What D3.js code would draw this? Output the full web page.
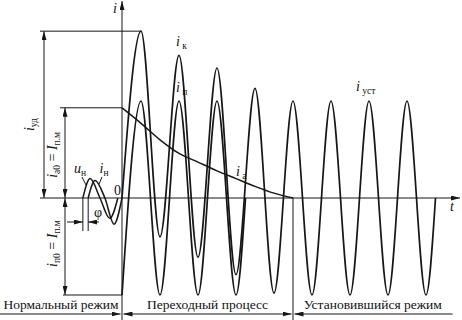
<!DOCTYPE html>
<html>
<head>
<meta charset="utf-8">
<script src="https://cdn.jsdelivr.net/npm/d3@7"></script>
<style>
  body { margin: 0; background: #fff; }
  text { font-family: "Liberation Serif", "DejaVu Serif", serif; fill: #111; }
</style>
</head>
<body>
<script>
(function () {

// time in periods of the supply frequency, current in units of I_п.м
// short-circuit current i_к: extremes at every half period
var tK = [0, 0.5, 1, 1.5, 2, 2.5, 3, 3.5, 4, 4.5, 5, 5.5, 6, 6.5, 7, 7.5, 8, 8.25];
var iK = [0, 1.72, -0.40, 1.47, -0.61, 1.34, -0.79, 1.13, -0.98, 1.0, -1.0, 1.0, -1.0, 1.0, -1.0, 1.0, -1.0, 0];

// periodic component i_п
var tP = [0, 0.5, 1, 1.5, 2, 2.5, 3, 3.25];
var iP = [-1, 1, -1, 1, -1, 1, -1, 0];

// aperiodic component i_а
var tA = [0, 0.5, 1, 1.5, 2, 2.5, 3, 3.5, 4, 4.5];
var iA = [0.93, 0.77, 0.60, 0.46, 0.37, 0.28, 0.20, 0.12, 0.05, 0];

// normal mode: voltage u_н and current i_н
var tU = [-1.03, -0.84, -0.58, -0.32, -0.11];
var uN = [0, 0.20, 0, -0.21, 0];
var tN = [-0.89, -0.71, -0.45, -0.21, 0];
var iN = [0, 0.18, 0, -0.27, 0];

// stages along the time axis
var stageNames = ["Нормальный режим", "Переходный процесс", "Установившийся режим"];
var stageEdges = [-3.21, 0, 4.5, 8.7];

var width = 462;
var height = 320;

var svg = d3.select("body")
  .append("svg")
    .attr("width", width)
    .attr("height", height);

var x = d3.scaleLinear().domain([0, 8]).range([122, 426]);
var y = d3.scaleLinear().domain([0, 1]).range([198, 101]);

var ink = "#161616";

// arrow head marker
svg.append("defs").append("marker")
    .attr("id", "arr")
    .attr("viewBox", "0 0 9 5")
    .attr("markerUnits", "userSpaceOnUse")
    .attr("markerWidth", 9)
    .attr("markerHeight", 5)
    .attr("refX", 9)
    .attr("refY", 2.5)
    .attr("orient", "auto-start-reverse")
  .append("path")
    .attr("d", "M0,0L9,2.5L0,5z")
    .attr("fill", ink);

function line(x1, y1, x2, y2, both, one) {
  var l = svg.append("line")
    .attr("x1", x1).attr("y1", y1)
    .attr("x2", x2).attr("y2", y2)
    .attr("stroke", ink)
    .attr("stroke-width", 1);
  if (both || one) l.attr("marker-end", "url(#arr)");
  if (both) l.attr("marker-start", "url(#arr)");
  return l;
}

// text with italic letters and upright subscripts
function label(px, py, parts, anchor, rot) {
  var t = svg.append("text")
    .attr("transform", "translate(" + px + "," + py + ")" + (rot ? " rotate(" + rot + ")" : ""))
    .attr("text-anchor", anchor || "start");
  var shift = 0;
  parts.forEach(function (p) {
    var sub = p[1] === "s";
    var dy = (sub ? 3 : 0) - shift;
    shift = sub ? 3 : 0;
    t.append("tspan")
      .attr("dy", dy)
      .attr("font-size", sub ? 9.5 : 14)
      .style("font-style", p[1] === "i" ? "italic" : "normal")
      .text(p[0]);
  });
  return t;
}

var x0 = x(0);
var y0 = y(0);
var yPeak = y(d3.max(iK));
var yA0 = y(iA[0]);
var yP0 = y(d3.min(iP));

// axes
line(x0, height, x0, 1, false, true);
line(40, y0, 460, y0, false, true);
label(115, 13, [["i", "i"]], "middle");
label(452, 211, [["t", "i"]], "middle");
label(114, 195, [["0", "n"]], "start").attr("font-size", 13);

// reference levels and dimension lines
line(40, yPeak, x(0.5), yPeak);
line(60, yA0, x0, yA0);
line(63, yP0, x0, yP0);
line(44, yPeak, 44, y0, true);
line(65, yA0, 65, y0, true);
line(65, y0, 65, yP0, true);

label(34, (yPeak + y0) / 2 + 10, [["i", "i"], ["уд", "s"]], "middle", -90);
label(57, (yA0 + y0) / 2 + 2, [["i", "i"], ["а0", "s"], [" = ", "n"], ["I", "i"], ["п.м", "s"]], "middle", -90);
label(57, (y0 + yP0) / 2 - 3, [["i", "i"], ["п0", "s"], [" = ", "n"], ["I", "i"], ["п.м", "s"]], "middle", -90);

// curves
var curve = d3.line()
  .x(function (d) { return x(d[0]); })
  .y(function (d) { return y(d[1]); })
  .curve(d3.curveMonotoneX);

function draw(ts, vs, w) {
  svg.append("path")
    .datum(d3.zip(ts, vs))
    .attr("d", curve)
    .attr("fill", "none")
    .attr("stroke", ink)
    .attr("stroke-width", w)
    .attr("stroke-linejoin", "round");
}

draw(tU, uN, 1.5);
draw(tN, iN, 1.5);
draw(tA, iA, 1.5);
draw(tP, iP, 1.7);
draw(tK, iK, 1.7);

// phase angle φ
var xu = x(tU[0]);
var xi = x(tN[0]);
line(xu, y0, xu, 231);
line(xi, y0, xi, 231);
line(67, 222, xu, 222, false, true);
line(99, 222, xi, 222, false, true);
label(98, 217, [["φ", "n"]], "middle").attr("font-size", 13);

// curve labels
label(80, 173, [["u", "i"], ["н", "s"]], "middle");
line(82, 177, 86, 185);
label(104, 173, [["i", "i"], ["н", "s"]], "middle");
line(102, 177, 99, 184);
label(176, 46, [["i", "i"], [" к", "s"]], "start");
label(176, 92, [["i", "i"], [" п", "s"]], "start");
label(236, 176, [["i", "i"], [" а", "s"]], "start");
label(356, 91, [["i", "i"], [" уст", "s"]], "start");

// stages
var by = 314;
line(x(stageEdges[2]), y0, x(stageEdges[2]), height);
stageNames.forEach(function (name, k) {
  var a = x(stageEdges[k]);
  var b = x(stageEdges[k + 1]);
  var l = svg.append("line")
    .attr("x1", a).attr("y1", by)
    .attr("x2", b).attr("y2", by)
    .attr("stroke", ink)
    .attr("stroke-width", 1);
  if (k > 0) l.attr("x1", a + 1.5).attr("marker-start", "url(#arr)");
  if (k < stageNames.length - 1) l.attr("x2", b - 1.5).attr("marker-end", "url(#arr)");
  svg.append("text")
    .attr("x", (a + b) / 2)
    .attr("y", by - 5)
    .attr("text-anchor", "middle")
    .attr("font-size", 13.5)
    .text(name);
});

}());
</script>
</body>
</html>
